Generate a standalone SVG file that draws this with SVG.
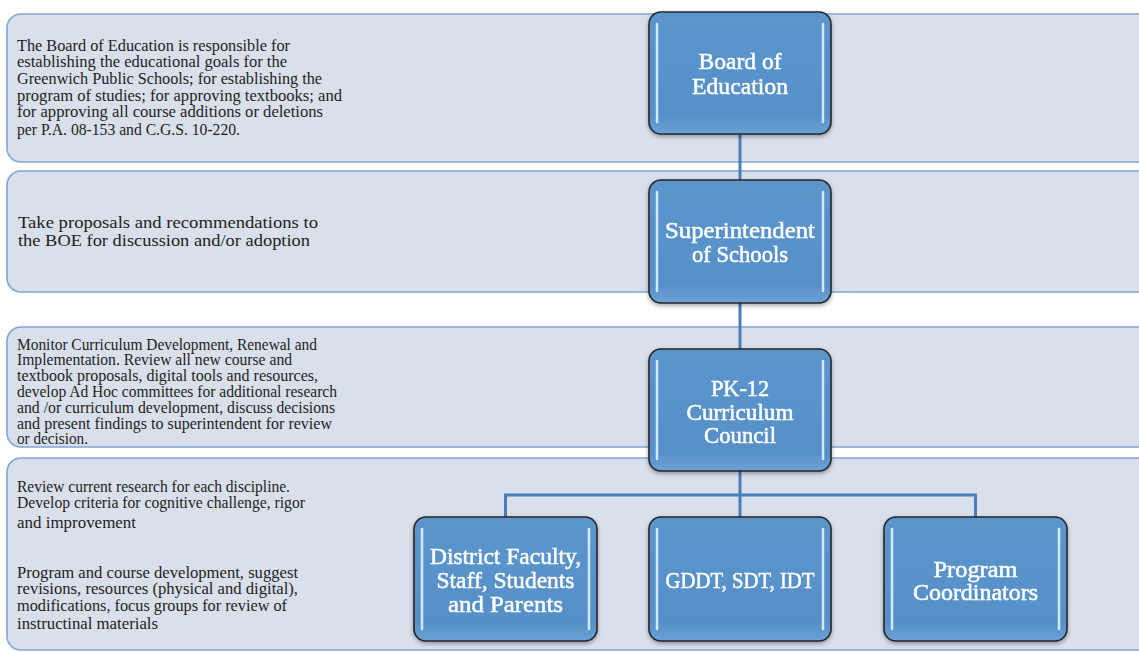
<svg xmlns="http://www.w3.org/2000/svg" width="1139" height="652" viewBox="0 0 1139 652">
<style>
.band{fill:#d9e0ec;stroke:#7ea5d8;stroke-width:1.6}
.desc{font-family:"Liberation Serif","Times New Roman",serif;font-size:16px;fill:#1e1e1e}
.desc2{font-family:"Liberation Serif","Times New Roman",serif;font-size:17.5px;fill:#1e1e1e}
.box{fill:url(#ng);stroke:#262626;stroke-width:1.6}
.hl{stroke:#d2e8fb;stroke-width:2.5;stroke-linecap:round;fill:none}
.lbl{font-family:"Liberation Serif","Times New Roman",serif;font-size:23px;fill:#ffffff;stroke:#ffffff;stroke-width:0.5;text-anchor:middle}
.conn{stroke:#4a7ebb;stroke-width:3;fill:none}
</style>
<defs>
<linearGradient id="ng" x1="0" y1="0" x2="0" y2="1">
<stop offset="0" stop-color="#5b95cc"/>
<stop offset="0.85" stop-color="#5790c8"/>
<stop offset="1" stop-color="#6aa2d6"/>
</linearGradient>
<filter id="sh" x="-10%" y="-10%" width="130%" height="130%">
<feDropShadow dx="0" dy="2" stdDeviation="2" flood-color="#000" flood-opacity="0.35"/>
</filter>
</defs>
<rect width="1139" height="652" fill="#ffffff"/>
<g id="bands">
<rect class="band" x="7" y="14" width="1150" height="148" rx="14"/>
<rect class="band" x="7" y="171" width="1150" height="121" rx="14"/>
<rect class="band" x="7" y="327" width="1150" height="120" rx="14"/>
<rect class="band" x="7" y="458" width="1150" height="192" rx="14"/>
</g>
<g id="descriptions">
<text class="desc" x="17" y="51" textLength="273" lengthAdjust="spacingAndGlyphs">The Board of Education is responsible for</text>
<text class="desc" x="17" y="67" textLength="270" lengthAdjust="spacingAndGlyphs">establishing the educational goals for the</text>
<text class="desc" x="17" y="84" textLength="305" lengthAdjust="spacingAndGlyphs">Greenwich Public Schools; for establishing the</text>
<text class="desc" x="17" y="101" textLength="325" lengthAdjust="spacingAndGlyphs">program of studies; for approving textbooks; and</text>
<text class="desc" x="17" y="117" textLength="306" lengthAdjust="spacingAndGlyphs">for approving all course additions or deletions</text>
<text class="desc" x="17" y="135" textLength="223" lengthAdjust="spacingAndGlyphs">per P.A. 08-153 and C.G.S. 10-220.</text>
<text class="desc2" x="18" y="228" textLength="300" lengthAdjust="spacingAndGlyphs">Take proposals and recommendations to</text>
<text class="desc2" x="18" y="246" textLength="292" lengthAdjust="spacingAndGlyphs">the BOE for discussion and/or adoption</text>
<text class="desc" x="17" y="350" textLength="300" lengthAdjust="spacingAndGlyphs">Monitor Curriculum Development, Renewal and</text>
<text class="desc" x="17" y="365" textLength="275" lengthAdjust="spacingAndGlyphs">Implementation. Review all new course and</text>
<text class="desc" x="17" y="381" textLength="301" lengthAdjust="spacingAndGlyphs">textbook proposals, digital tools and resources,</text>
<text class="desc" x="17" y="397" textLength="320" lengthAdjust="spacingAndGlyphs">develop Ad Hoc committees for additional research</text>
<text class="desc" x="17" y="413" textLength="318" lengthAdjust="spacingAndGlyphs">and /or curriculum development, discuss decisions</text>
<text class="desc" x="17" y="429" textLength="315" lengthAdjust="spacingAndGlyphs">and present findings to superintendent for review</text>
<text class="desc" x="17" y="444" textLength="71" lengthAdjust="spacingAndGlyphs">or decision.</text>
<text class="desc" x="17" y="492" textLength="273" lengthAdjust="spacingAndGlyphs">Review current research for each discipline.</text>
<text class="desc" x="17" y="508" textLength="288" lengthAdjust="spacingAndGlyphs">Develop criteria for cognitive challenge, rigor</text>
<text class="desc" x="17" y="528" textLength="119" lengthAdjust="spacingAndGlyphs">and improvement</text>
<text class="desc" x="17" y="578" textLength="281" lengthAdjust="spacingAndGlyphs">Program and course development, suggest</text>
<text class="desc" x="17" y="594" textLength="281" lengthAdjust="spacingAndGlyphs">revisions, resources (physical and digital),</text>
<text class="desc" x="17" y="611" textLength="270" lengthAdjust="spacingAndGlyphs">modifications, focus groups for review of</text>
<text class="desc" x="17" y="629" textLength="141" lengthAdjust="spacingAndGlyphs">instructinal materials</text>
</g>
<g id="connectors">
<line class="conn" x1="740" y1="132" x2="740" y2="182"/>
<line class="conn" x1="740" y1="301" x2="740" y2="351"/>
<line class="conn" x1="740" y1="470" x2="740" y2="519"/>
<path class="conn" d="M505.5 519 V495 H975.5 V519"/>
</g>
<g id="board" filter="url(#sh)">
<rect class="box" x="649" y="12" width="182" height="122" rx="12"/>
<path class="hl" d="M657 24 V122 M823 24 V122"/>
<text class="lbl" x="740" y="69" textLength="83" lengthAdjust="spacingAndGlyphs">Board of</text>
<text class="lbl" x="740" y="94" textLength="96" lengthAdjust="spacingAndGlyphs">Education</text>
</g>
<g id="superintendent" filter="url(#sh)">
<rect class="box" x="649" y="180" width="182" height="123" rx="12"/>
<path class="hl" d="M657 192 V291 M823 192 V291"/>
<text class="lbl" x="740" y="238" textLength="150" lengthAdjust="spacingAndGlyphs">Superintendent</text>
<text class="lbl" x="740" y="262" textLength="96" lengthAdjust="spacingAndGlyphs">of Schools</text>
</g>
<g id="council" filter="url(#sh)">
<rect class="box" x="649" y="349" width="182" height="122" rx="12"/>
<path class="hl" d="M657 361 V459 M823 361 V459"/>
<text class="lbl" x="740" y="396" textLength="58" lengthAdjust="spacingAndGlyphs">PK-12</text>
<text class="lbl" x="740" y="420" textLength="107" lengthAdjust="spacingAndGlyphs">Curriculum</text>
<text class="lbl" x="740" y="443" textLength="72" lengthAdjust="spacingAndGlyphs">Council</text>
</g>
<g id="district" filter="url(#sh)">
<rect class="box" x="414" y="517" width="183" height="124" rx="12"/>
<path class="hl" d="M422 529 V629 M589 529 V629"/>
<text class="lbl" x="505.5" y="564" textLength="151" lengthAdjust="spacingAndGlyphs">District Faculty,</text>
<text class="lbl" x="505.5" y="588" textLength="138" lengthAdjust="spacingAndGlyphs">Staff, Students</text>
<text class="lbl" x="505.5" y="612" textLength="115" lengthAdjust="spacingAndGlyphs">and Parents</text>
</g>
<g id="gddt" filter="url(#sh)">
<rect class="box" x="649" y="517" width="182" height="124" rx="12"/>
<path class="hl" d="M657 529 V629 M823 529 V629"/>
<text class="lbl" x="740" y="588" textLength="149" lengthAdjust="spacingAndGlyphs">GDDT, SDT, IDT</text>
</g>
<g id="coordinators" filter="url(#sh)">
<rect class="box" x="884" y="517" width="183" height="124" rx="12"/>
<path class="hl" d="M892 529 V629 M1059 529 V629"/>
<text class="lbl" x="975.5" y="577" textLength="84" lengthAdjust="spacingAndGlyphs">Program</text>
<text class="lbl" x="975.5" y="600" textLength="125" lengthAdjust="spacingAndGlyphs">Coordinators</text>
</g>
</svg>
